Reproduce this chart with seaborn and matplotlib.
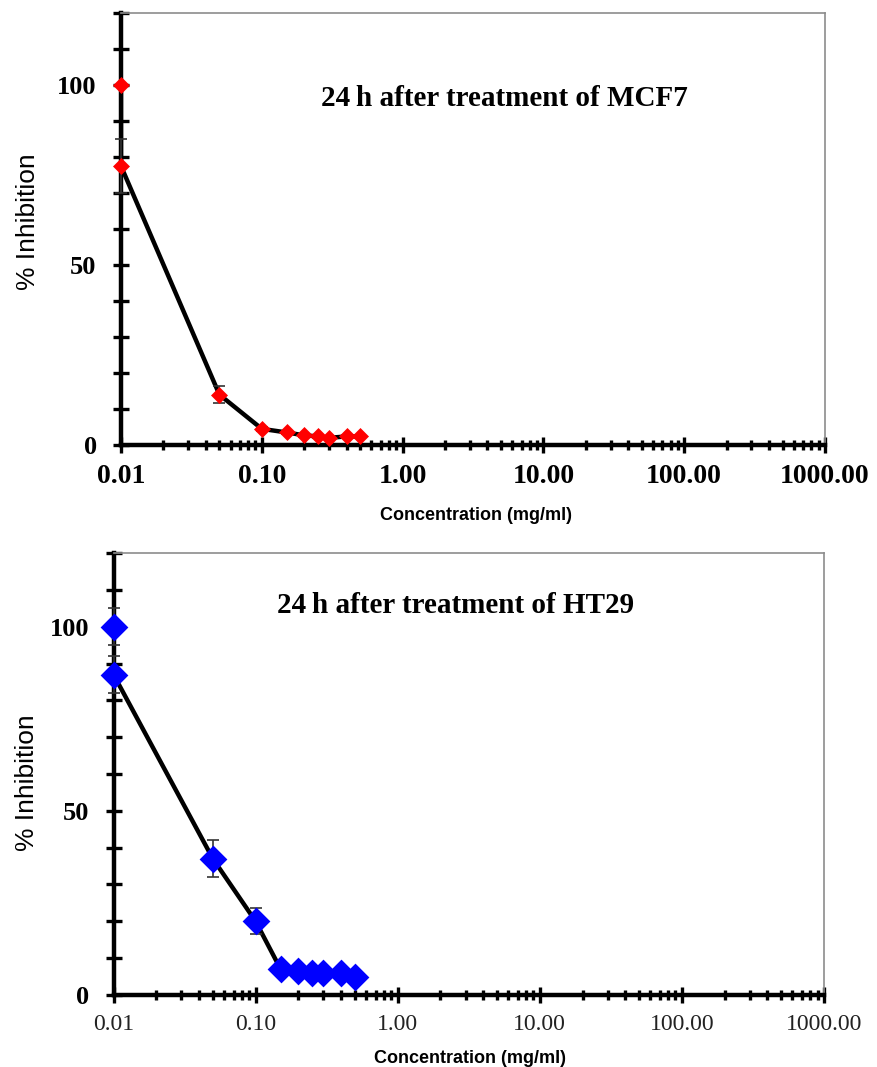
import numpy as np
import pandas as pd
import seaborn as sns
import matplotlib.pyplot as plt
from matplotlib.ticker import LogLocator, FixedLocator, FormatStrFormatter, NullFormatter

sns.set_theme(style="white")
plt.rcParams['font.family'] = ['Liberation Serif', 'DejaVu Serif']
plt.rcParams['text.color'] = 'black'
plt.rcParams['axes.labelcolor'] = 'black'
plt.rcParams['xtick.color'] = 'black'
plt.rcParams['ytick.color'] = 'black'

# concentrations (mg/ml), two readings at 0.01
conc = [0.01, 0.01, 0.05, 0.1, 0.15, 0.2, 0.25, 0.3, 0.4, 0.5]
mcf7 = [100, 77.5, 14, 4.5, 3.5, 2.7, 2.4, 2.0, 2.4, 2.4]
mcf7_err = [0, 7.5, 2.3, 0.6, 0.4, 0.4, 0.4, 0.4, 0.4, 0.4]
ht29 = [100, 87, 37, 20, 7, 6.5, 6, 6, 6, 5]
ht29_err = [5, 5, 5, 3.5, 1, 1, 1, 1, 1, 1]

xticks = [0.01, 0.1, 1, 10, 100, 1000]
yticks = list(range(0, 121, 10))
ylabels = {0: "0", 50: "50", 100: "100"}

fig = plt.figure(figsize=(8.78, 10.67), dpi=100)
ax1 = fig.add_axes([0.1378, 0.5829, 0.8018, 0.4049])
ax2 = fig.add_axes([0.1293, 0.0675, 0.8092, 0.4142])


def draw(ax, y, err, color, msize, title, tpos, xbold, ylab_pos, xlab_pos):
    df = pd.DataFrame({"conc": conc, "inh": y})
    sns.lineplot(data=df, x="conc", y="inh", ax=ax, color="black", lw=3.2,
                 sort=False, estimator=None, zorder=3)
    ax.errorbar(conc, y, yerr=err, fmt="none", ecolor="#333333", elinewidth=1.2,
                capsize=4, capthick=1.2, zorder=4, clip_on=False)
    sns.scatterplot(data=df, x="conc", y="inh", ax=ax, color=color, marker="D",
                    s=msize, edgecolor=color, linewidth=0, zorder=6, clip_on=False)
    ax.set_xscale("log")
    ax.set_xlim(0.01, 1000)
    ax.set_ylim(0, 120)
    ax.xaxis.set_major_locator(FixedLocator(xticks))
    ax.xaxis.set_major_formatter(FormatStrFormatter("%.2f"))
    ax.xaxis.set_minor_locator(LogLocator(base=10, subs=range(2, 10)))
    ax.xaxis.set_minor_formatter(NullFormatter())
    ax.yaxis.set_major_locator(FixedLocator(yticks))
    ax.set_yticklabels([ylabels.get(t, "") for t in yticks])
    for s in ["top", "right"]:
        ax.spines[s].set_color("#8c8c8c")
        ax.spines[s].set_linewidth(1.2)
    for s in ["left", "bottom"]:
        ax.spines[s].set_color("black")
        ax.spines[s].set_linewidth(3.2)
    ax.tick_params(axis="both", which="major", direction="inout", length=11,
                   width=2.4, color="black", bottom=True, left=True)
    ax.tick_params(axis="x", which="minor", direction="inout", length=7,
                   width=2.4, color="black", bottom=True)
    ax.tick_params(axis="x", which="major", pad=8)
    ax.tick_params(axis="y", which="major", pad=12)
    for lab in ax.get_yticklabels():
        lab.set_fontsize(19)
        lab.set_fontweight("bold")
    for lab in ax.get_xticklabels():
        if xbold:
            lab.set_fontsize(20)
            lab.set_fontweight("bold")
        else:
            lab.set_fontsize(17)
            lab.set_color("#222222")
    ax.set_ylabel("% Inhibition", fontsize=19, family=["Liberation Sans", "DejaVu Sans"])
    ax.yaxis.set_label_coords(*ylab_pos)
    ax.set_xlabel("Concentration (mg/ml)", fontsize=13, fontweight="bold",
                  family=["Liberation Sans", "DejaVu Sans"], va="top")
    ax.xaxis.set_label_coords(*xlab_pos)
    ax.text(tpos[0], tpos[1], title, transform=ax.transAxes, ha="center",
            va="center", fontsize=21, fontweight="bold")
    ax.grid(False)


draw(ax1, mcf7, mcf7_err, "#ff0000", 75, "24\u2009h after treatment of MCF7",
     (0.545, 0.803), True, (-0.115, 0.516), (0.504, -0.1435))
draw(ax2, ht29, ht29_err, "#0000ff", 200, "24\u2009h after treatment of HT29",
     (0.481, 0.882), False, (-0.105, 0.48), (0.502, -0.124))

fig.savefig("out.png", dpi=100)
